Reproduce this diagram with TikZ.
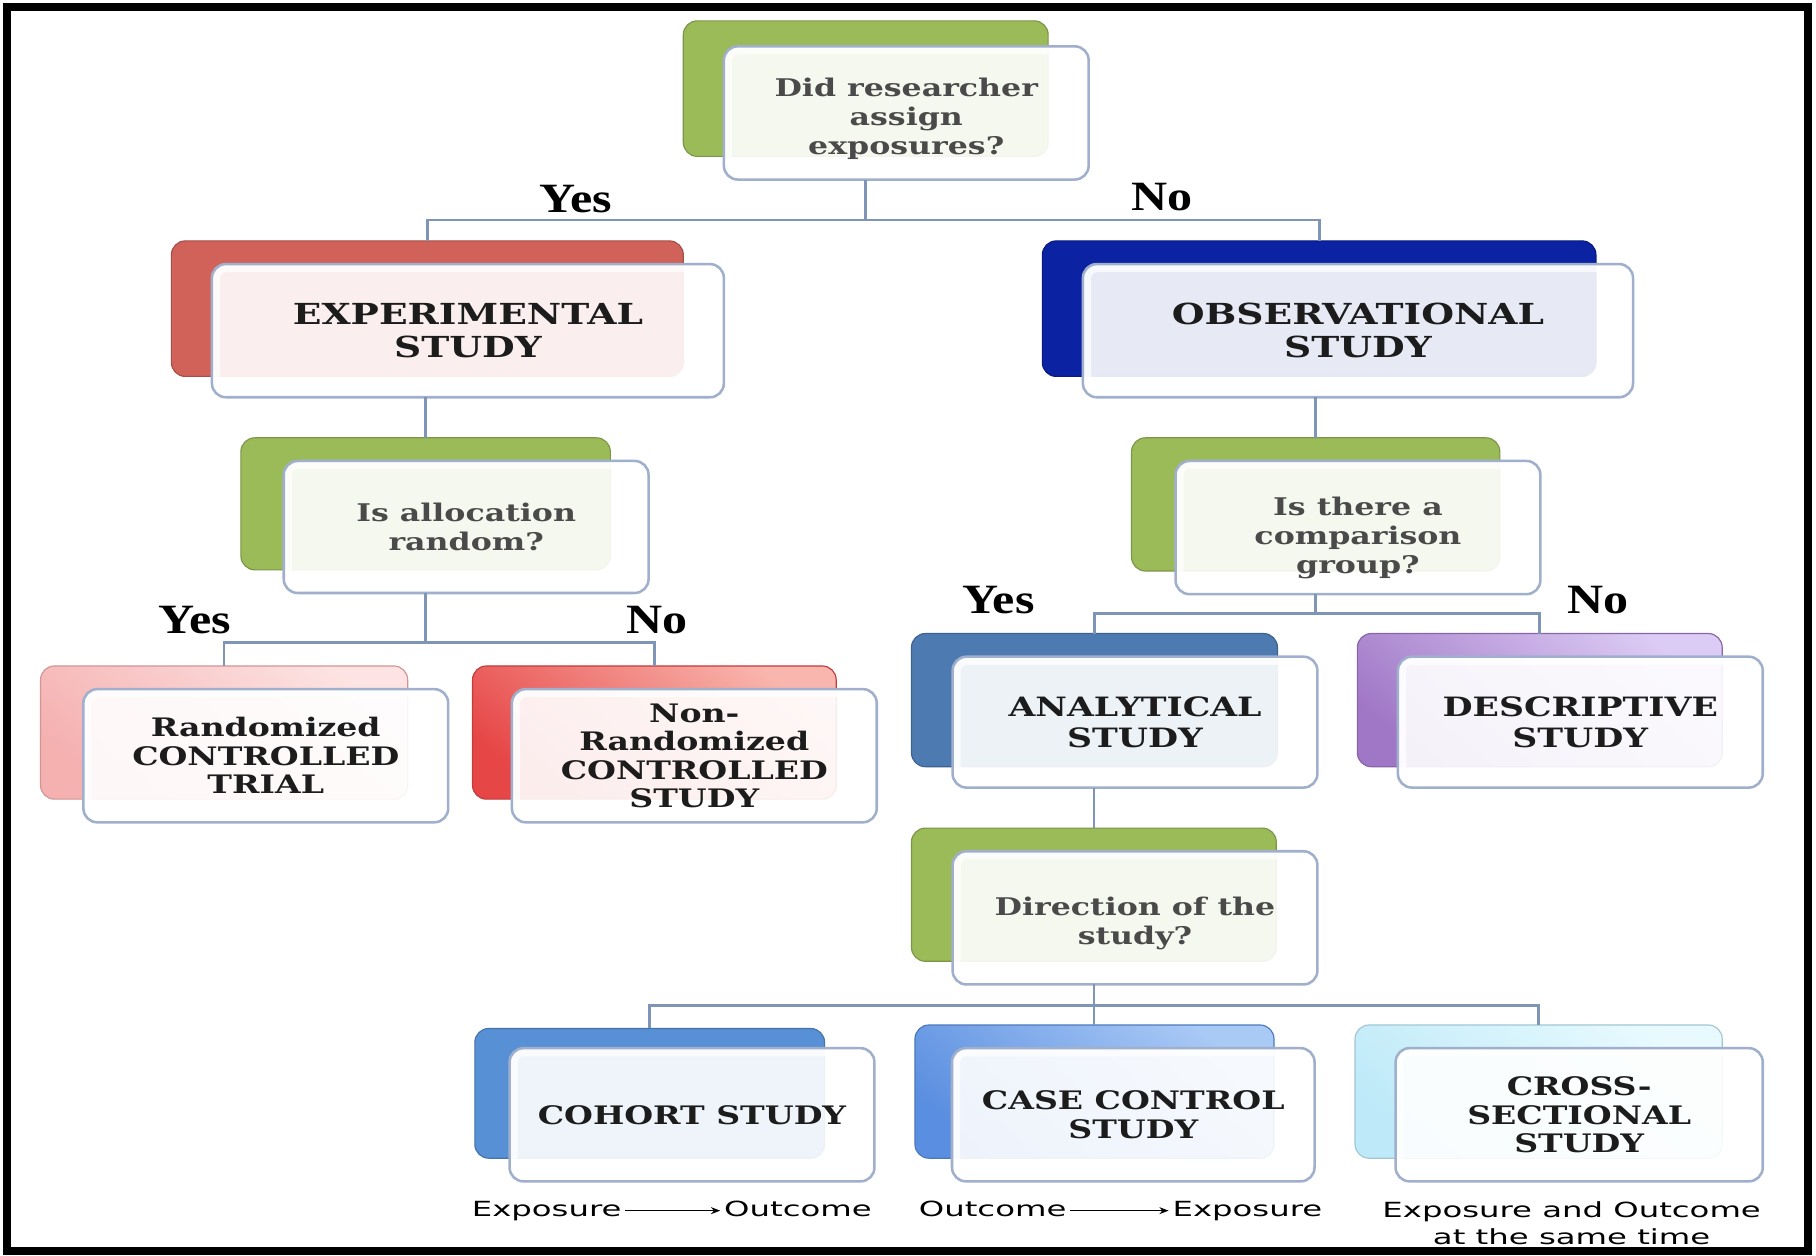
\documentclass[tikz,border=0pt]{standalone}
\usepackage{fontspec}
\setmainfont[FakeStretch=1.3]{DejaVu Serif}
\newfontfamily\yesfont[FakeStretch=1.2]{Liberation Serif}
\newfontfamily\labfont[FakeStretch=1.55]{DejaVu Sans}
\usetikzlibrary{fit,arrows.meta}
\definecolor{grn}{HTML}{9BBB59}
\definecolor{expred}{HTML}{D0625A}
\definecolor{obsblue}{HTML}{0B22A3}
\definecolor{anablue}{HTML}{4D7BB1}
\definecolor{cohblue}{HTML}{5890D5}
\definecolor{fbord}{HTML}{A0B0CC}
\definecolor{lcol}{HTML}{7F95B8}
\definecolor{qtxt}{HTML}{4A4A4A}
\definecolor{htxt}{HTML}{1C1C1C}
\definecolor{rctA}{HTML}{FDE3E3}
\definecolor{rctB}{HTML}{F5B0B0}
\definecolor{nrcA}{HTML}{F9B6AE}
\definecolor{nrcB}{HTML}{E64646}
\definecolor{dscA}{HTML}{DCCBF4}
\definecolor{dscB}{HTML}{A077C6}
\definecolor{ccA}{HTML}{AACAF6}
\definecolor{ccB}{HTML}{5A8EE0}
\definecolor{csA}{HTML}{E8FAFE}
\definecolor{csB}{HTML}{BDE9F8}
\newcommand\lowerby[1]{\rule{0pt}{#1}}
\tikzset{
  backbox/.style={rounded corners=6pt, inner sep=0pt, outer sep=0pt, draw=#1!80!black, fill=#1, line width=0.5pt},
  shadebox/.style 2 args={rounded corners=6pt, inner sep=0pt, outer sep=0pt, draw=#2!85!black, line width=0.5pt,
     top color=#1, bottom color=#2, shading angle=-40},
  frontbox/.style={rectangle, rounded corners=6pt, inner sep=0pt, outer sep=0pt, draw=fbord, line width=1.1pt,
     minimum width=157.5pt, minimum height=57.5pt,
     fill=white, fill opacity=0.9, text opacity=1, align=center,
     path picture={\draw[white, opacity=0.7, line width=7pt, rounded corners=6pt]
        (path picture bounding box.south west) rectangle (path picture bounding box.north east);}},
  qtext/.style={text=qtxt, font=\bfseries\fontsize{10.5}{12.5}\selectfont},
  bigtext/.style={text=htxt, font=\bfseries\fontsize{12.5}{14}\selectfont},
  midtext/.style={text=htxt, font=\bfseries\fontsize{11.5}{13.5}\selectfont},
  smalltext/.style={text=htxt, font=\bfseries\fontsize{11}{12.3}\selectfont},
  yn/.style={text=black, font=\yesfont\bfseries\fontsize{18}{18}\selectfont},
  conn/.style={draw=lcol, line width=1.2pt},
  lab/.style={text=black, font=\labfont\fontsize{9}{11.5}\selectfont, inner sep=1.5pt, text height=6.5pt, text depth=1.8pt},
  cslabel/.style={text=black, font=\labfont\fontsize{9}{11.5}\selectfont, inner sep=1.5pt, align=center},
  arr/.style={draw=black, line width=0.6pt, -{Stealth[length=4pt,width=3pt]}}
}
\begin{document}
\begin{tikzpicture}[x=0.5pt,y=-0.5pt]
\useasboundingbox (0,0) rectangle (1568,1084);
\fill[white] (0,0) rectangle (1568,1084);
\draw[black, line width=3.5pt] (6,6) rectangle (1561,1080);

% top question
\node[backbox=grn, fit={(590,18)(905,135)}] (q1b) {};
\node[frontbox, qtext] (q1f) at (782.5,97.5) {\lowerby{13pt}Did researcher\\assign\\exposures?};

% experimental / observational
\node[backbox=expred, fit={(148,208)(590,325)}] (expb) {};
\node[frontbox, bigtext, minimum width=221pt] (expf) at (404,285.5) {EXPERIMENTAL\\STUDY};
\node[backbox=obsblue, fit={(900,208)(1378,325)}] (obsb) {};
\node[frontbox, bigtext, minimum width=237.5pt] (obsf) at (1172.5,285.5) {OBSERVATIONAL\\STUDY};

% allocation question
\node[backbox=grn, fit={(208,378)(527,492)}] (q2b) {};
\node[frontbox, qtext, minimum height=57pt] (q2f) at (402.5,455) {Is allocation\\random?};

% comparison question
\node[backbox=grn, fit={(977,378)(1295,493)}] (q3b) {};
\node[frontbox, qtext] (q3f) at (1172.5,455.5) {\lowerby{17pt}Is there a\\comparison\\group?};

% RCT / non-RCT
\node[shadebox={rctA}{rctB}, fit={(35,575)(352,690)}] (rctb) {};
\node[frontbox, smalltext] (rctf) at (229.5,652.5) {Randomized\\CONTROLLED\\TRIAL};
\node[shadebox={nrcA}{nrcB}, fit={(408,575)(722,690)}] (nrctb) {};
\node[frontbox, smalltext] (nrctf) at (599.5,652.5) {Non-\\Randomized\\CONTROLLED\\STUDY};

% analytical / descriptive
\node[backbox=anablue, fit={(787,547)(1103,662)}] (anab) {};
\node[frontbox, midtext, minimum height=56.5pt] (anaf) at (980,623.5) {ANALYTICAL\\STUDY};
\node[shadebox={dscA}{dscB}, fit={(1172,547)(1487,662)}] (descb) {};
\node[frontbox, midtext, minimum height=56.5pt] (descf) at (1364.5,623.5) {DESCRIPTIVE\\STUDY};

% direction question
\node[backbox=grn, fit={(787,715)(1102,830)}] (q4b) {};
\node[frontbox, qtext] (q4f) at (980,792.5) {\lowerby{13pt}Direction of the\\study?};

% bottom row
\node[backbox=cohblue, fit={(410,888)(712,1000)}] (cohb) {};
\node[frontbox, smalltext] (cohf) at (597.5,962.5) {COHORT STUDY};
\node[shadebox={ccA}{ccB}, fit={(790,885)(1100,1000)}] (ccb) {};
\node[frontbox, smalltext, minimum width=156.5pt] (ccf) at (978.5,962.5) {CASE CONTROL\\STUDY};
\node[shadebox={csA}{csB}, fit={(1170,885)(1487,1000)}] (csb) {};
\node[frontbox, smalltext, minimum width=158.5pt] (csf) at (1363.5,962.5) {CROSS-\\SECTIONAL\\STUDY};

% Yes / No labels
\node[yn] (yes1) at (497,172) {Yes};
\node[yn] (no1) at (1003,170) {No};
\node[yn] (yes2) at (168,535) {Yes};
\node[yn] (no2) at (567,535) {No};
\node[yn] (yes3) at (862,518) {Yes};
\node[yn] (no3) at (1380,518) {No};

% connectors
\coordinate (j1) at (747.5,190);
\coordinate (j2) at (367.5,555);
\coordinate (j3) at (1136,530);
\coordinate (j4) at (944.5,868);
\draw[conn] (q1f.south -| j1) -- (j1);
\draw[conn] (j1) -| (expb.north);
\draw[conn] (j1) -| (obsb.north);
\draw[conn] (expf.south -| q2b.north) -- (q2b.north);
\draw[conn] (q2f.south -| j2) -- (j2);
\draw[conn] (j2) -| (rctb.north);
\draw[conn] (j2) -| (nrctb.north);
\draw[conn] (obsf.south -| q3b.north) -- (q3b.north);
\draw[conn] (q3f.south -| j3) -- (j3);
\draw[conn] (j3) -| (anab.north);
\draw[conn] (j3) -| (descb.north);
\draw[conn] (anaf.south -| q4b.north) -- (q4b.north);
\draw[conn] (q4f.south -| j4) -- (j4);
\draw[conn] (j4) -| (cohb.north);
\draw[conn] (j4) -| (csb.north);
\draw[conn] (j4) -- (ccb.north -| j4);

% bottom labels
\node[lab, anchor=base west] (e1) at (404,1050) {Exposure};
\node[lab, anchor=base east] (o1) at (756,1050) {Outcome};
\draw[arr] (e1) -- (o1);
\node[lab, anchor=base west] (o2) at (790,1050) {Outcome};
\node[lab, anchor=base east] (e2) at (1145,1050) {Exposure};
\draw[arr] (o2) -- (e2);
\node[cslabel] (cslab) at (1357,1056) {Exposure and Outcome\\at the same time};
\end{tikzpicture}
\end{document}
